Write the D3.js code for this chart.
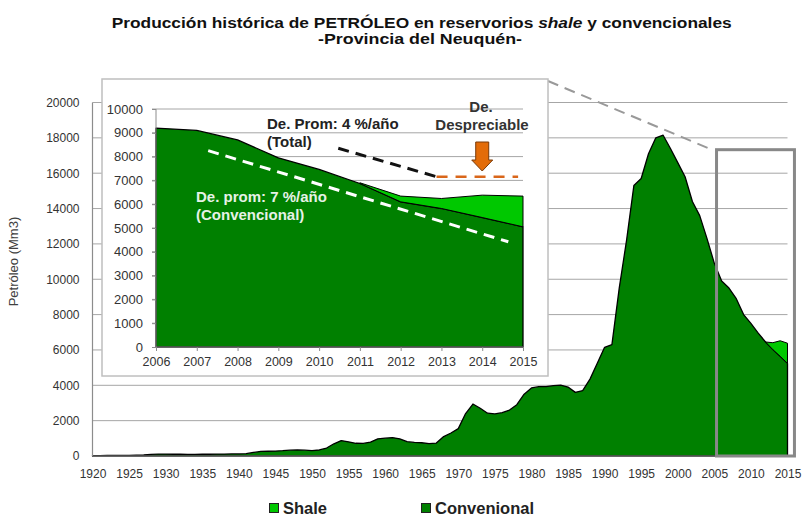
<!DOCTYPE html>
<html><head><meta charset="utf-8">
<script src="https://cdn.jsdelivr.net/npm/d3@7/dist/d3.min.js"></script>
<style>
body{margin:0;background:#fff;}
svg{display:block;font-family:"Liberation Sans",Arial,sans-serif;}
</style>
</head><body>
<svg id="c" width="804" height="517"></svg>
<script>
// ---------------- DATA ----------------
const years = [1920,1921,1922,1923,1924,1925,1926,1927,1928,1929,
  1930,1931,1932,1933,1934,1935,1936,1937,1938,1939,
  1940,1941,1942,1943,1944,1945,1946,1947,1948,1949,
  1950,1951,1952,1953,1954,1955,1956,1957,1958,1959,
  1960,1961,1962,1963,1964,1965,1966,1967,1968,1969,
  1970,1971,1972,1973,1974,1975,1976,1977,1978,1979,
  1980,1981,1982,1983,1984,1985,1986,1987,1988,1989,
  1990,1991,1992,1993,1994,1995,1996,1997,1998,1999,
  2000,2001,2002,2003,2004,2005,2006,2007,2008,2009,
  2010,2011,2012,2013,2014,2015];
const convencional = [20,20,30,30,40,40,50,60,90,110,
  110,100,100,90,90,100,100,110,110,120,
  120,130,200,260,270,280,300,330,340,330,
  300,340,450,690,870,800,720,710,790,970,
  1010,1040,970,810,770,750,700,730,1100,1300,
  1550,2400,2940,2700,2420,2380,2450,2600,2900,3500,
  3850,3920,3930,3980,4010,3900,3600,3700,4350,5250,
  6150,6300,9500,12200,15300,15700,17100,18000,18150,17400,
  16600,15800,14400,13600,12300,10900,9900,9500,8900,8000,
  7500,6950,6450,6020,5640,5240];
const shaleYears = [2012,2013,2014,2015];
const shale = [0,390,880,1140];

const insetYears = [2006,2007,2008,2009,2010,2011,2012,2013,2014,2015];
const insetConvencional = [9200,9100,8700,7950,7460,6870,6100,5820,5440,5050];
const insetShaleYears = [2011,2012,2013,2014,2015];
const insetShale = [30,240,420,940,1290];

const mainYTicks = [0,2000,4000,6000,8000,10000,12000,14000,16000,18000,20000];
const mainXTicks = [1920,1925,1930,1935,1940,1945,1950,1955,1960,1965,1970,1975,1980,1985,1990,1995,2000,2005,2010,2015];
const insetYTicks = [0,1000,2000,3000,4000,5000,6000,7000,8000,9000,10000];
const insetXTicks = insetYears;

// trend annotations in inset (data units)
const trendConv = [[2007.28, 8250],[2014.64, 4420]];
const trendTotal = [[2010.47, 8350],[2012.88, 7155]];
const trendShale = [[2012.88, 7155],[2014.88, 7155]];

const legendLabels = ["Shale","Convenional"];

// ---------------- STYLE ----------------
const C_CONV = "#008000", C_SHALE = "#00c800", GRID = "#a6a6a6", TXT = "#333";
const svg = d3.select("#c");

// ---------------- MAIN CHART ----------------
const xM = d3.scaleLinear().domain([1920, 2015]).range([92.5, 787.5]);
const yM = d3.scaleLinear().domain([0, 20000]).range([456, 102.5]);

svg.append("g").selectAll("line").data(mainYTicks.filter(d => d > 0)).join("line")
  .attr("x1", xM(1920)).attr("x2", xM(2015))
  .attr("y1", d => yM(d)).attr("y2", d => yM(d))
  .attr("stroke", GRID).attr("stroke-width", 1);

const mainData = years.map((y, i) => ({year: y, v: convencional[i]}));
const convAt = y => convencional[years.indexOf(y)];
svg.append("path").datum(mainData)
  .attr("d", d3.area().x(d => xM(d.year)).y0(yM(0)).y1(d => yM(d.v)))
  .attr("fill", C_CONV).attr("stroke", "#000").attr("stroke-width", 1.3).attr("stroke-linejoin", "round");
const shaleData = shaleYears.map((y, i) => ({year: y, b: convAt(y), t: convAt(y) + shale[i]}));
svg.append("path").datum(shaleData)
  .attr("d", d3.area().x(d => xM(d.year)).y0(d => yM(d.b)).y1(d => yM(d.t)))
  .attr("fill", C_SHALE).attr("stroke", "#000").attr("stroke-width", 1).attr("stroke-linejoin", "round");

// axes lines
svg.append("line").attr("x1", xM(1920)).attr("x2", xM(1920)).attr("y1", yM(20000)).attr("y2", yM(0))
  .attr("stroke", "#8c8c8c").attr("stroke-width", 1.2);
svg.append("line").attr("x1", xM(1920)).attr("x2", xM(2015)).attr("y1", yM(0)).attr("y2", yM(0))
  .attr("stroke", "#8c8c8c").attr("stroke-width", 1);

const yAxM = svg.append("g").attr("transform", `translate(${xM(1920)},0)`)
  .call(d3.axisLeft(yM).tickValues(mainYTicks).tickSize(0).tickPadding(13).tickFormat(d3.format("d")));
yAxM.select(".domain").remove();
yAxM.selectAll("text").attr("font-size", 12).attr("fill", TXT).attr("font-family", "Liberation Sans, Arial");

const xAxM = svg.append("g").attr("transform", `translate(0,${yM(0)})`)
  .call(d3.axisBottom(xM).tickValues(mainXTicks).tickSize(0).tickPadding(13).tickFormat(d3.format("d")));
xAxM.select(".domain").remove();
xAxM.selectAll("text").attr("font-size", 12).attr("fill", TXT).attr("font-family", "Liberation Sans, Arial");

svg.append("text").attr("transform", `translate(18,${yM(11000)}) rotate(-90)`)
  .attr("text-anchor", "middle").attr("font-size", 13).attr("fill", "#404040")
  .text("Petróleo (Mm3)");

// zoom rectangle
svg.append("rect").attr("x", xM(2005.3)).attr("y", yM(17330))
  .attr("width", xM(2015.95) - xM(2005.3)).attr("height", yM(0) - yM(17330))
  .attr("fill", "none").attr("stroke", "#888").attr("stroke-width", 3);

// ---------------- INSET ----------------
const box = {x: 102, y: 79, w: 446, h: 297};
svg.append("line").attr("x1", box.x + box.w).attr("y1", box.y + 2)
  .attr("x2", xM(2005.3) - 7).attr("y2", yM(17330) - 1)
  .attr("stroke", "#999").attr("stroke-width", 2).attr("stroke-dasharray", "11,7");
svg.append("rect").attr("x", box.x).attr("y", box.y).attr("width", box.w).attr("height", box.h)
  .attr("fill", "#fff").attr("stroke", "#bfbfbf").attr("stroke-width", 1.5);

const xI = d3.scaleLinear().domain([2006, 2015]).range([156, 523]);
const yI = d3.scaleLinear().domain([0, 10000]).range([347, 109]);

svg.append("g").selectAll("line").data(insetYTicks.filter(d => d > 0)).join("line")
  .attr("x1", xI(2006) - 4).attr("x2", xI(2015))
  .attr("y1", d => yI(d)).attr("y2", d => yI(d))
  .attr("stroke", GRID).attr("stroke-width", 1);

const insetData = insetYears.map((y, i) => ({year: y, v: insetConvencional[i]}));
const iConvAt = y => insetConvencional[insetYears.indexOf(y)];
svg.append("path").datum(insetData)
  .attr("d", d3.area().x(d => xI(d.year)).y0(yI(0)).y1(d => yI(d.v)))
  .attr("fill", C_CONV).attr("stroke", "#000").attr("stroke-width", 1.3).attr("stroke-linejoin", "round");
const insetShaleData = insetShaleYears.map((y, i) => ({year: y, b: iConvAt(y), t: iConvAt(y) + insetShale[i]}));
svg.append("path").datum(insetShaleData)
  .attr("d", d3.area().x(d => xI(d.year)).y0(d => yI(d.b)).y1(d => yI(d.t)))
  .attr("fill", C_SHALE).attr("stroke", "#000").attr("stroke-width", 1).attr("stroke-linejoin", "round");

svg.append("line").attr("x1", xI(2006)).attr("x2", xI(2015)).attr("y1", yI(0)).attr("y2", yI(0))
  .attr("stroke", "#8c8c8c").attr("stroke-width", 1);
svg.append("line").attr("x1", xI(2006)).attr("x2", xI(2006)).attr("y1", yI(10000)).attr("y2", yI(0))
  .attr("stroke", "#8c8c8c").attr("stroke-width", 1);

const yAxI = svg.append("g").attr("transform", `translate(${xI(2006)},0)`)
  .call(d3.axisLeft(yI).tickValues(insetYTicks).tickSize(4).tickPadding(9).tickFormat(d3.format("d")));
yAxI.select(".domain").remove();
yAxI.selectAll("line").attr("stroke", "#8c8c8c");
yAxI.selectAll("text").attr("font-size", 13).attr("fill", TXT).attr("font-family", "Liberation Sans, Arial");

const xAxI = svg.append("g").attr("transform", `translate(0,${yI(0)})`)
  .call(d3.axisBottom(xI).tickValues(insetXTicks).tickSize(4).tickPadding(6).tickFormat(d3.format("d")));
xAxI.select(".domain").remove();
xAxI.selectAll("line").attr("stroke", "#8c8c8c");
xAxI.selectAll("text").attr("font-size", 12.5).attr("fill", TXT).attr("font-family", "Liberation Sans, Arial");

// trend lines
const trendLine = d3.line().x(d => xI(d[0])).y(d => yI(d[1]));
svg.append("path").attr("d", trendLine(trendConv)).attr("fill", "none")
  .attr("stroke", "#fff").attr("stroke-width", 3).attr("stroke-dasharray", "11,7");
svg.append("path").attr("d", trendLine(trendTotal)).attr("fill", "none")
  .attr("stroke", "#111").attr("stroke-width", 3).attr("stroke-dasharray", "11,7");
svg.append("path").attr("d", trendLine(trendShale)).attr("fill", "none")
  .attr("stroke", "#d9661a").attr("stroke-width", 2.5).attr("stroke-dasharray", "11,8");

// orange arrow
const ax = xI(2014), at = 142;
svg.append("polygon")
  .attr("points", [[ax-6.5,at],[ax+6.5,at],[ax+6.5,at+18],[ax+10.5,at+18],[ax,at+29],[ax-10.5,at+18],[ax-6.5,at+18]].map(p => p.join(",")).join(" "))
  .attr("fill", "#e36c09").attr("stroke", "#7a3a08").attr("stroke-width", 1);

// annotation texts
const ann = svg.append("g").attr("font-weight", "bold").attr("font-size", 15);
ann.append("text").attr("x", 267).attr("y", 129).attr("fill", "#222").text("De. Prom: 4 %/año");
ann.append("text").attr("x", 267).attr("y", 147).attr("fill", "#222").text("(Total)");
ann.append("text").attr("x", 481).attr("y", 112).attr("text-anchor", "middle").attr("fill", "#333").text("De.");
ann.append("text").attr("x", 482).attr("y", 130).attr("text-anchor", "middle").attr("fill", "#333").text("Despreciable");
ann.append("text").attr("x", 196).attr("y", 202).attr("fill", "#e6f2e6").text("De. prom: 7 %/año");
ann.append("text").attr("x", 196).attr("y", 220).attr("fill", "#e6f2e6").text("(Convencional)");

// ---------------- TITLE ----------------
const t1 = svg.append("text").attr("x", 421.7).attr("y", 28).attr("text-anchor", "middle")
  .attr("font-size", 14).attr("font-weight", "bold").attr("fill", "#111")
  .attr("textLength", 620).attr("lengthAdjust", "spacingAndGlyphs");
t1.append("tspan").text("Producción histórica de PETRÓLEO en reservorios ");
t1.append("tspan").attr("font-style", "italic").text("shale");
t1.append("tspan").text(" y convencionales");
svg.append("text").attr("x", 420).attr("y", 44).attr("text-anchor", "middle")
  .attr("font-size", 14).attr("font-weight", "bold").attr("fill", "#111")
  .attr("textLength", 204).attr("lengthAdjust", "spacingAndGlyphs")
  .text("-Provincia del Neuquén-");

// ---------------- LEGEND ----------------
const legX = [269, 421];
const legColors = [C_SHALE, C_CONV];
const leg = svg.append("g");
legendLabels.forEach((lab, i) => {
  leg.append("rect").attr("x", legX[i] + 0.5).attr("y", 503.5).attr("width", 9).attr("height", 9)
    .attr("fill", legColors[i]).attr("stroke", "#222").attr("stroke-width", 1);
  leg.append("text").attr("x", legX[i] + 14).attr("y", 513.5).attr("font-size", 16.5).attr("font-weight", "bold")
    .attr("fill", "#222").text(lab);
});
</script>
</body></html>
